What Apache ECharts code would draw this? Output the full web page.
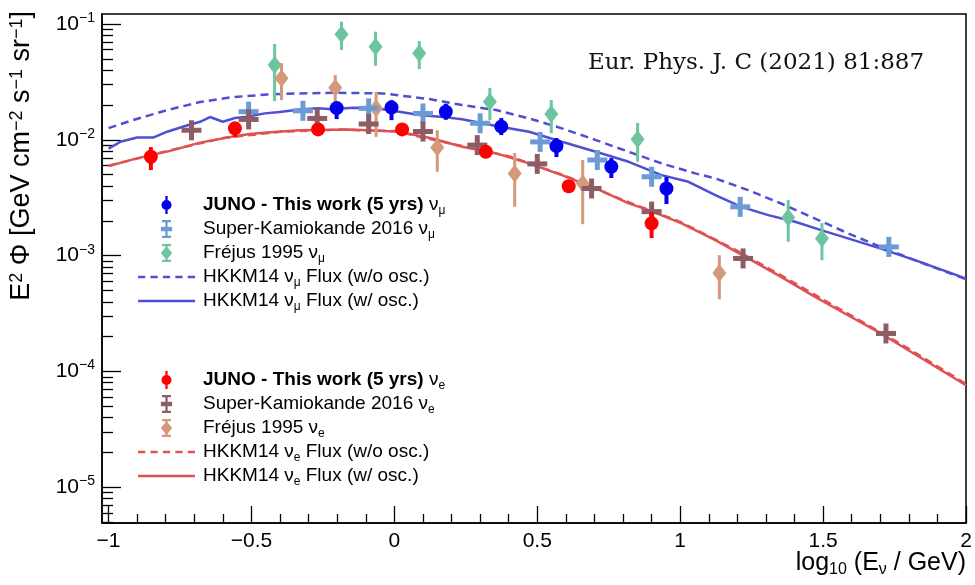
<!DOCTYPE html>
<html>
<head>
<meta charset="utf-8">
<script src="https://cdn.jsdelivr.net/npm/echarts@6.0.0/dist/echarts.min.js"></script>
<style>
  html, body { margin: 0; padding: 0; background: #fff; }
  #main { width: 975px; height: 585px; }
</style>
</head>
<body>
<div id="main"></div>
<script>
let myChart = echarts.init(document.getElementById('main'));

// tick positions
const xMajor = [-1, -0.5, 0, 0.5, 1, 1.5, 2];
const xMinor = [-0.9, -0.8, -0.7, -0.6, -0.4, -0.3, -0.2, -0.1, 0.1, 0.2, 0.3, 0.4,
                0.6, 0.7, 0.8, 0.9, 1.1, 1.2, 1.3, 1.4, 1.6, 1.7, 1.8, 1.9];
const yMajor = [1e-5, 1e-4, 1e-3, 1e-2, 1e-1];
const yMinor = [5e-6, 6e-6, 7e-6, 8e-6, 9e-6];
[1e-5, 1e-4, 1e-3, 1e-2].forEach(function (d) {
    for (let k = 2; k <= 9; k++) yMinor.push(k * d);
});

// points: [log10 E, E^2 flux, low, high]
const junoMu = [
    [-0.202, 0.0188, 0.0151, 0.0213],
    [-0.010, 0.0190, 0.0148, 0.0220],
    [0.180, 0.0175, 0.0149, 0.0205],
    [0.374, 0.0130, 0.0110, 0.0154],
    [0.567, 0.00883, 0.0071, 0.01035],
    [0.759, 0.00585, 0.00468, 0.00695],
    [0.952, 0.0038, 0.00279, 0.00478]
];
const skMu = [
    [-0.51, 0.0175, 0.0155, 0.0205],
    [-0.32, 0.0178, 0.0160, 0.0198],
    [-0.09, 0.0187, 0.0168, 0.0208],
    [0.10, 0.0169, 0.0152, 0.0188],
    [0.30, 0.0139, 0.0124, 0.0155],
    [0.51, 0.0096, 0.0086, 0.0107],
    [0.71, 0.0067, 0.0060, 0.0075],
    [0.90, 0.0048, 0.0043, 0.0054],
    [1.21, 0.00264, 0.00237, 0.00294],
    [1.73, 0.00119, 0.00102, 0.00136]
];
const frejusMu = [
    [-0.419, 0.0443, 0.0216, 0.0672],
    [-0.185, 0.0815, 0.0596, 0.1047],
    [-0.066, 0.0637, 0.0436, 0.0858],
    [0.087, 0.0558, 0.0408, 0.0713],
    [0.334, 0.0213, 0.0148, 0.0280],
    [0.549, 0.0167, 0.0114, 0.0220],
    [0.851, 0.0101, 0.00646, 0.0140],
    [1.378, 0.00214, 0.00132, 0.00302],
    [1.496, 0.00141, 0.000914, 0.00191]
];
const junoE = [
    [-0.852, 0.00714, 0.00548, 0.00865],
    [-0.558, 0.01257, 0.01056, 0.0142],
    [-0.267, 0.0123, 0.0111, 0.0135],
    [0.027, 0.0123, 0.0111, 0.0135],
    [0.320, 0.00788, 0.0071, 0.0089],
    [0.610, 0.00398, 0.0035, 0.0045],
    [0.900, 0.0019, 0.00142, 0.00238]
];
const skE = [
    [-0.71, 0.0121, 0.0104, 0.0140],
    [-0.51, 0.0150, 0.0128, 0.0176],
    [-0.27, 0.0153, 0.0132, 0.0178],
    [-0.09, 0.0137, 0.0115, 0.0162],
    [0.10, 0.0118, 0.0100, 0.0138],
    [0.29, 0.0090, 0.0078, 0.0104],
    [0.50, 0.0062, 0.0054, 0.0071],
    [0.69, 0.0038, 0.0033, 0.0044],
    [0.90, 0.0024, 0.0021, 0.0027],
    [1.22, 0.000946, 0.00083, 0.00108],
    [1.72, 0.000213, 0.000185, 0.000245]
];
const frejusE = [
    [-0.395, 0.0340, 0.0220, 0.0460],
    [-0.207, 0.0282, 0.0213, 0.0363],
    [-0.064, 0.0187, 0.0106, 0.0260],
    [0.150, 0.0086, 0.0053, 0.0121],
    [0.421, 0.00513, 0.00264, 0.00769],
    [0.659, 0.0042, 0.00187, 0.00668],
    [1.137, 0.00071, 0.000419, 0.00101]
];

// HKKM14 curves
const hkkmMuNoOsc = [
    [-1.0, 0.01263], [-0.914, 0.01482], [-0.795, 0.01807], [-0.68, 0.02118], [-0.565, 0.02339],
    [-0.446, 0.0246], [-0.331, 0.02518], [-0.216, 0.02547], [-0.042, 0.02518], [0.122, 0.0225],
    [0.237, 0.01997], [0.356, 0.01807], [0.471, 0.01532], [0.586, 0.01256], [0.705, 0.00995],
    [0.82, 0.00788], [0.935, 0.00626], [1.053, 0.00513], [1.123, 0.00464], [1.238, 0.00368],
    [1.353, 0.00282], [1.472, 0.00209], [1.587, 0.00156], [1.702, 0.00119], [1.821, 0.000914],
    [2.0, 0.000626]
];
const hkkmMuOsc = [
    [-1.0, 0.0084], [-0.959, 0.00961], [-0.9, 0.01046], [-0.844, 0.01046], [-0.795, 0.01175],
    [-0.732, 0.01316], [-0.68, 0.01432], [-0.645, 0.01573], [-0.6, 0.01432], [-0.558, 0.01542],
    [-0.516, 0.01581], [-0.453, 0.01692], [-0.401, 0.01738], [-0.331, 0.01825], [-0.269, 0.0187],
    [-0.216, 0.01833], [-0.146, 0.01892], [-0.063, 0.0187], [0.017, 0.01746], [0.087, 0.01636],
    [0.181, 0.01563], [0.237, 0.01503], [0.356, 0.01316], [0.471, 0.01175], [0.586, 0.00962],
    [0.705, 0.00788], [0.82, 0.00646], [0.935, 0.00496], [1.029, 0.00434], [1.123, 0.00333],
    [1.214, 0.00264], [1.308, 0.00224], [1.402, 0.00196], [1.493, 0.00166], [1.587, 0.00141],
    [1.702, 0.00115], [1.821, 0.000914], [1.936, 0.000724], [2.0, 0.000633]
];
const hkkmENoOsc = [
    [-1.0, 0.00598], [-0.8, 0.00795], [-0.6, 0.01035], [-0.4, 0.01175], [-0.2, 0.01228],
    [0.0, 0.0119], [0.2, 0.00925], [0.4, 0.00722], [0.6, 0.00487], [0.8, 0.00302],
    [1.0, 0.00196], [1.2, 0.0011], [1.4, 0.000581], [1.6, 0.000302], [1.8, 0.000157],
    [2.0, 0.000078]
];
const hkkmEOsc = [
    [-1.0, 0.00593], [-0.914, 0.00678], [-0.855, 0.00738], [-0.795, 0.00791], [-0.68, 0.00946],
    [-0.565, 0.01067], [-0.506, 0.01122], [-0.446, 0.01156], [-0.331, 0.01208], [-0.216, 0.01222],
    [-0.157, 0.01231], [0.017, 0.01175], [0.133, 0.01026], [0.237, 0.00871], [0.356, 0.00764],
    [0.471, 0.00626], [0.586, 0.00496], [0.705, 0.00381], [0.82, 0.00283], [0.889, 0.00247],
    [1.005, 0.0019], [1.123, 0.00136], [1.238, 0.000946], [1.353, 0.000656], [1.472, 0.000441],
    [1.587, 0.000306], [1.702, 0.000213], [2.0, 0.000076]
];

const FONT = 'Liberation Sans, Arial, Helvetica, sans-serif';
const C = {
    juno: '#0000ee', skMu: '#6b9bd6', frMu: '#6cc59e', lineMu: '#4f4fd3',
    junoE: '#ff0000', skE: '#8e5c64', frE: '#d4987a', lineE: '#e05252'
};

const ICON = {
    circle: 'path://M4 0H6V16H4Z M0.5 8A4.5 4.5 0 1 1 9.5 8A4.5 4.5 0 1 1 0.5 8Z',
    cross: 'path://M1 0H9V2H6V6H10V10H6V14H9V16H1V14H4V10H0V6H4V2H1Z',
    diamond: 'path://M1 0H9V2H6V3L10 8L6 13V14H9V16H1V14H4V13L0 8L4 3V2H1Z',
    dashed: 'path://M0 0H7V2.5H0Z M12 0H19V2.5H12Z M24 0H31V2.5H24Z M36 0H43V2.5H36Z M48 0H55V2.5H48Z',
    solid: 'path://M0 0H55V2.5H0Z'
};

const labels = {
    'juno_mu': '{b|JUNO - This work (5 yrs)} ν{sub|μ}',
    'sk_mu': 'Super-Kamiokande 2016 ν{sub|μ}',
    'fr_mu': 'Fréjus 1995 ν{sub|μ}',
    'hk_mu_no': 'HKKM14 ν{sub|μ} Flux (w/o osc.)',
    'hk_mu': 'HKKM14 ν{sub|μ} Flux (w/ osc.)',
    'juno_e': '{b|JUNO - This work (5 yrs)} ν{sub|e}',
    'sk_e': 'Super-Kamiokande 2016 ν{sub|e}',
    'fr_e': 'Fréjus 1995 ν{sub|e}',
    'hk_e_no': 'HKKM14 ν{sub|e} Flux (w/o osc.)',
    'hk_e': 'HKKM14 ν{sub|e} Flux (w/ osc.)'
};

function errRender(kind, color) {
    return function (params, api) {
        const x = api.value(0), y = api.value(1);
        const p = api.coord([x, y]);
        const pl = api.coord([x, api.value(2)]);
        const ph = api.coord([x, api.value(3)]);
        const ch = [];
        if (kind === 'circle') {
            ch.push({ type: 'line', shape: { x1: p[0], y1: ph[1], x2: p[0], y2: pl[1] },
                      style: { stroke: color, lineWidth: 4 } });
            ch.push({ type: 'circle', shape: { cx: p[0], cy: p[1], r: 7 }, style: { fill: color } });
        } else if (kind === 'cross') {
            const top = Math.min(ph[1], p[1] - 10), bot = Math.max(pl[1], p[1] + 10);
            ch.push({ type: 'line', shape: { x1: p[0], y1: top, x2: p[0], y2: bot },
                      style: { stroke: color, lineWidth: 5 } });
            ch.push({ type: 'line', shape: { x1: p[0] - 10, y1: p[1], x2: p[0] + 10, y2: p[1] },
                      style: { stroke: color, lineWidth: 5 } });
        } else {
            ch.push({ type: 'line', shape: { x1: p[0], y1: ph[1], x2: p[0], y2: pl[1] },
                      style: { stroke: color, lineWidth: 3 } });
            ch.push({ type: 'polygon',
                      shape: { points: [[p[0], p[1] - 9], [p[0] + 7, p[1]], [p[0], p[1] + 9], [p[0] - 7, p[1]]] },
                      style: { fill: color } });
        }
        return { type: 'group', children: ch };
    };
}

function pts(name, data, kind, color) {
    return {
        name: name, type: 'custom', data: data, encode: { x: 0, y: 1 },
        itemStyle: { color: color }, renderItem: errRender(kind, color), z: 3
    };
}
function curve(name, data, color, dashed) {
    return {
        name: name, type: 'line', data: data, symbol: 'none', smooth: false,
        itemStyle: { color: color },
        lineStyle: { color: color, width: 2.5, type: dashed ? [8, 5] : 'solid' }, z: 2
    };
}

function legendCfg(top, names, kinds) {
    return {
        orient: 'vertical', left: 133, top: top, itemGap: 0,
        itemWidth: 57, itemHeight: 18, selectedMode: false,
        data: names.map(function (n, i) { return { name: n, icon: ICON[kinds[i]] }; }),
        formatter: function (n) { return labels[n]; },
        textStyle: {
            fontFamily: FONT, fontSize: 19, color: '#000', lineHeight: 24, padding: [0, 0, 0, 3],
            rich: {
                b: { fontFamily: FONT, fontSize: 19, fontWeight: 'bold', lineHeight: 24 },
                sub: { fontFamily: FONT, fontSize: 12, lineHeight: 12, verticalAlign: 'bottom' }
            }
        }
    };
}

const xBase = { type: 'value', min: -1.023, max: 2, splitLine: { show: false }, position: 'bottom', offset: 0 };
const yBase = { type: 'log', logBase: 10, min: 4.92e-6, max: 0.122, splitLine: { show: false }, position: 'left', offset: 0 };

let option = {
    backgroundColor: '#fff',
    animation: false,
    grid: { left: 102, right: 9, top: 14, bottom: 62, show: true, borderColor: '#000', borderWidth: 1.5 },
    xAxis: [
        Object.assign({}, xBase, {
            axisLine: { onZero: false, lineStyle: { color: '#000', width: 1.5 } },
            axisTick: { inside: true, length: 17, customValues: xMajor, lineStyle: { color: '#000', width: 1.3 } },
            axisLabel: {
                customValues: xMajor, fontFamily: FONT, fontSize: 21, color: '#000', margin: 8,
                formatter: function (v) { return String(v).replace('-', '−'); }
            }
        }),
        Object.assign({}, xBase, {
            axisLine: { show: false, onZero: false },
            axisTick: { inside: true, length: 9, customValues: xMinor, lineStyle: { color: '#000', width: 1.3 } },
            axisLabel: { show: false }
        })
    ],
    yAxis: [
        Object.assign({}, yBase, {
            axisLine: { show: true, onZero: false, lineStyle: { color: '#000', width: 1.5 } },
            axisTick: { show: true, inside: true, length: 19, customValues: yMajor, lineStyle: { color: '#000', width: 1.3 } },
            axisLabel: {
                customValues: yMajor, color: '#000', margin: 7,
                formatter: function (v) {
                    const e = Math.round(Math.log10(v));
                    return '{m|10}{s|' + String(e).replace('-', '−') + '}';
                },
                rich: {
                    m: { fontFamily: FONT, fontSize: 21, lineHeight: 26, color: '#000' },
                    s: { fontFamily: FONT, fontSize: 14, lineHeight: 20, verticalAlign: 'top', color: '#000' }
                }
            }
        }),
        Object.assign({}, yBase, {
            axisLine: { show: false, onZero: false },
            axisTick: { show: true, inside: true, length: 11, customValues: yMinor, lineStyle: { color: '#000', width: 1.3 } },
            axisLabel: { show: false }
        })
    ],
    legend: [
        legendCfg(188, ['juno_mu', 'sk_mu', 'fr_mu', 'hk_mu_no', 'hk_mu'], ['circle', 'cross', 'diamond', 'dashed', 'solid']),
        legendCfg(363, ['juno_e', 'sk_e', 'fr_e', 'hk_e_no', 'hk_e'], ['circle', 'cross', 'diamond', 'dashed', 'solid'])
    ],
    graphic: [
        {
            type: 'text', x: 22, y: 11, rotation: Math.PI / 2,
            style: {
                text: 'E{s|2} Φ [GeV cm{s|−2} s{s|−1} sr{s|−1}]',
                align: 'right', verticalAlign: 'middle', textAlign: 'right', textVerticalAlign: 'middle',
                fontFamily: FONT, fontSize: 27, fill: '#000',
                rich: {
                    s: { fontFamily: FONT, fontSize: 18, lineHeight: 14, verticalAlign: 'top', fill: '#000' }
                }
            }
        },
        {
            type: 'text', x: 966, y: 563,
            style: {
                text: 'log{s|10} (E{s|ν} / GeV)',
                align: 'right', verticalAlign: 'middle', textAlign: 'right', textVerticalAlign: 'middle',
                fontFamily: FONT, fontSize: 25, fill: '#000', lineHeight: 30,
                rich: {
                    s: { fontFamily: FONT, fontSize: 16, lineHeight: 14, verticalAlign: 'bottom', fill: '#000' }
                }
            }
        },
        {
            type: 'text', x: 588, y: 63,
            style: {
                text: 'Eur. Phys. J. C (2021) 81:887',
                align: 'left', verticalAlign: 'middle', textAlign: 'left', textVerticalAlign: 'middle',
                fontFamily: 'DejaVu Serif, Liberation Serif, serif', fontSize: 23, fill: '#111'
            }
        }
    ],
    series: [
        curve('hk_mu_no', hkkmMuNoOsc, C.lineMu, true),
        curve('hk_mu', hkkmMuOsc, C.lineMu, false),
        curve('hk_e_no', hkkmENoOsc, C.lineE, true),
        curve('hk_e', hkkmEOsc, C.lineE, false),
        pts('fr_mu', frejusMu, 'diamond', C.frMu),
        pts('fr_e', frejusE, 'diamond', C.frE),
        pts('sk_mu', skMu, 'cross', C.skMu),
        pts('sk_e', skE, 'cross', C.skE),
        pts('juno_mu', junoMu, 'circle', C.juno),
        pts('juno_e', junoE, 'circle', C.junoE)
    ]
};

myChart.setOption(option);
</script>
</body>
</html>
